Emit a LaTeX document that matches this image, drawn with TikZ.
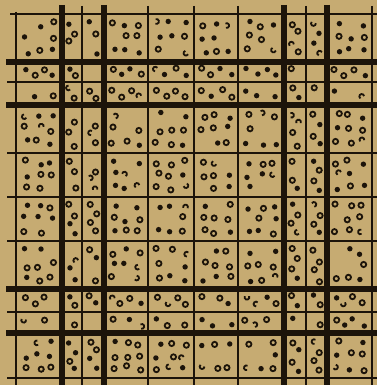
\documentclass[tikz,border=0pt]{standalone}
\definecolor{bg}{RGB}{198,171,114}
\definecolor{ink}{RGB}{28,20,10}
\begin{document}
\begin{tikzpicture}[x=1pt,y=-1pt,
  thinline/.style={line width=2.6pt,draw=ink},
  thickline/.style={line width=5.5pt,draw=ink},
  ring/.style={draw=ink,line width=1.8pt,fill=bg},
  blot/.style={fill=ink},
  hook/.style={draw=ink,line width=1.8pt}]
\fill[bg] (0,0) rectangle (377,385);
\useasboundingbox (0,0) rectangle (377,385);
% vertical lines
\draw[thinline] (16,12) -- (16,385);
\foreach \x in {82,148,194,238,306,372} \draw[thinline] (\x,6) -- (\x,385);
\foreach \x in {62,104,284,327} \draw[thickline] (\x,5) -- (\x,385);
% horizontal lines
\draw[thinline] (10,14) -- (377,14);
\foreach \y in {82,153,197,241,312,378} \draw[thinline] (7,\y) -- (377,\y);
\foreach \y in {62,105,289,333} \draw[thickline] (6,\y) -- (377,\y);
% dots
\pgfmathsetseed{11}
\foreach \a/\b in {16/62,62/82,82/104,104/148,148/194,194/238,238/284,284/306,306/327,327/372}{
 \foreach \c/\d in {14/62,62/82,82/105,105/153,153/197,197/241,241/289,289/312,312/333,333/378}{
  \pgfmathsetmacro\w{\b-\a-7}
  \pgfmathsetmacro\h{\d-\c-7}
  \pgfmathtruncatemacro\nc{\w<20 ? 1 : (\h<20 ? round(\w/10) : 3)}
  \pgfmathtruncatemacro\nr{\h<20 ? (\w<20 ? 2 : 1) : (\w<20 ? round(\h/10) : 3)}
  \pgfmathsetmacro\zx{\w<20 ? 3 : 0}
  \pgfmathsetmacro\zy{(\h<20 && \w>=20) ? 3 : 0}
  \foreach \i in {1,...,\nc}{
   \foreach \j in {1,...,\nr}{
     \pgfmathsetmacro\s{mod(\i+\j,2)*2-1}
     \pgfmathsetmacro\px{\a+3.5+(\i-0.5)*\w/\nc + \s*\zx + (\zx>0 ? rand*1.0 : rand*0.22*\w/\nc)}
     \pgfmathsetmacro\py{\c+3.5+(\j-0.5)*\h/\nr + \s*\zy + (\zy>0 ? rand*1.0 : rand*0.22*\h/\nr)}
     \pgfmathsetmacro\r{rnd}
     \pgfmathtruncatemacro\t{\r<0.15 ? 0 : (\r<0.6 ? 1 : (\r<0.9 ? 2 : 3))}
     \pgfmathsetmacro\ang{rnd*360}
     \ifcase\t
     \or \draw[ring] (\px,\py) circle[radius=2.6pt];
     \or \fill[blot] (\px,\py) circle[radius=2.7pt];
     \or \draw[hook] (\px,\py) ++(\ang:2.4pt) arc[start angle=\ang, delta angle=230, radius=2.4pt];
     \fi
   }
  }
 }
}
\end{tikzpicture}
\end{document}
